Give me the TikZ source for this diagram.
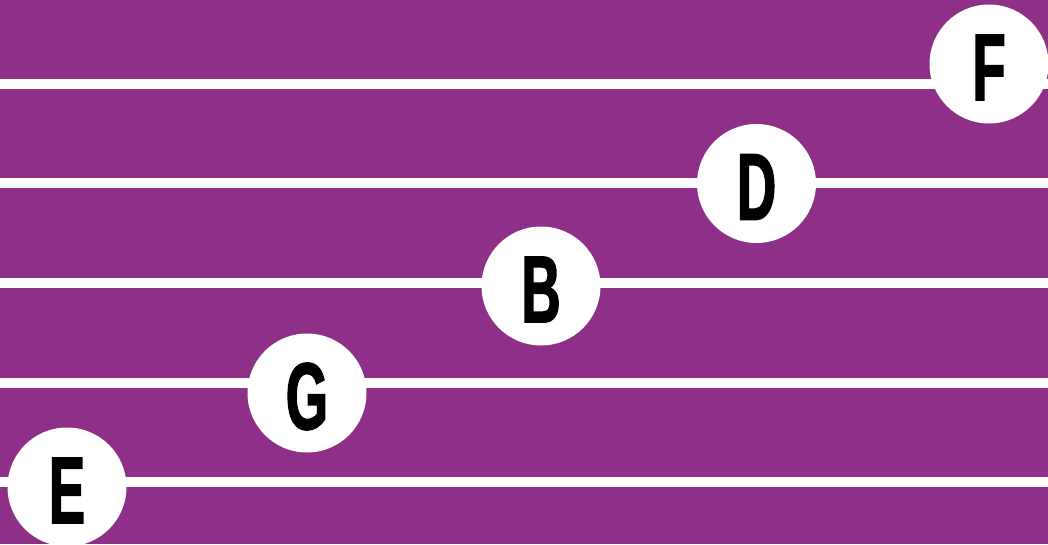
\documentclass[tikz,border=0pt]{standalone}
\usepackage{fontspec}
\newfontfamily\notefont[FakeStretch=0.57,FakeBold=1.6]{Liberation Sans}
\definecolor{bgpurple}{HTML}{8E3087}
\tikzset{
  rail/.style={draw=white, line width=10pt},
  notedot/.style={circle, fill=white, minimum size=119pt, inner sep=0pt},
  noteletter/.style={inner sep=0pt, text=black, font=\notefont\bfseries\fontsize{95}{95}\selectfont}
}
\begin{document}
\begin{tikzpicture}[x=1pt,y=-1pt]
\fill[bgpurple] (0,0) rectangle (1048,544);
\useasboundingbox (0,0) rectangle (1048,544);
% staff lines
\foreach \i/\y in {1/83.5,2/183.3,3/283.3,4/382.5,5/481.7}{
  \coordinate (l\i a) at (0,\y);
  \coordinate (l\i b) at (1048,\y);
  \draw[rail] (l\i a) -- (l\i b);
}
% notes
\foreach \n/\x/\y in {E/67/487,G/307/393,B/541/286,D/756.5/183.5,F/989/64}{
  \node[notedot] (\n) at (\x,\y) {};
  \node[noteletter] (\n t) at ([yshift=-3.5pt]\n.center) {\n};
}
\end{tikzpicture}
\end{document}
